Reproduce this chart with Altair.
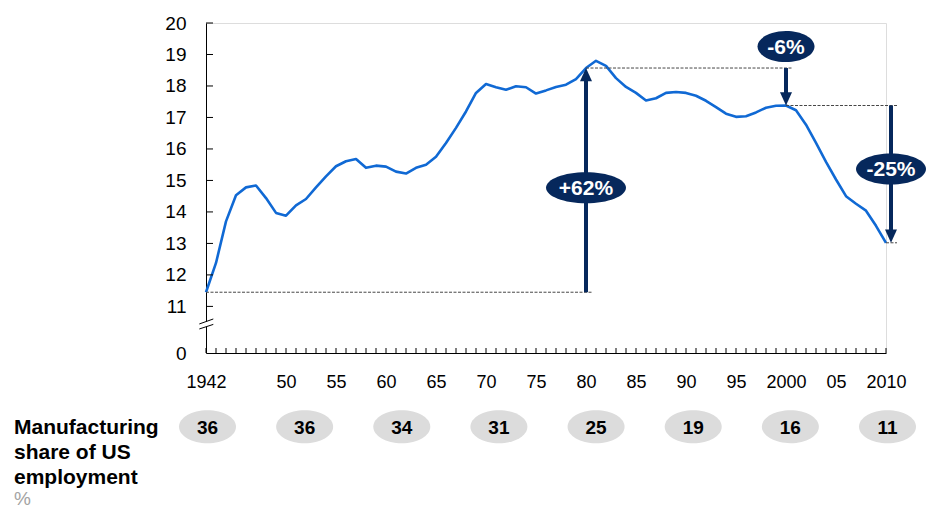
import altair as alt
import pandas as pd

# Manufacturing value added as % of US GDP, 1942-2010
years = list(range(1942, 2011))
share_gdp = [
    11.45, 12.38, 13.70, 14.53, 14.78, 14.84, 14.44, 13.97, 13.88, 14.21,  # 1942-1951
    14.41, 14.78, 15.13, 15.45, 15.61, 15.68, 15.40, 15.47, 15.44, 15.28,  # 1952-1961
    15.22, 15.40, 15.50, 15.75, 16.19, 16.67, 17.19, 17.78, 18.06, 17.96,  # 1962-1971
    17.88, 17.99, 17.96, 17.76, 17.86, 17.97, 18.04, 18.22, 18.57, 18.80,  # 1972-1981
    18.64, 18.25, 17.97, 17.78, 17.54, 17.61, 17.78, 17.81, 17.78, 17.69,  # 1982-1991
    17.53, 17.33, 17.12, 17.02, 17.04, 17.16, 17.31, 17.37, 17.38, 17.23,  # 1992-2001
    16.77, 16.19, 15.59, 15.03, 14.50, 14.26, 14.04, 13.56, 13.02,         # 2002-2010
]

# Period changes marked with arrows
change_labels = ["+62%", "-6%", "-25%"]
change_from_year = [1942, 1980, 2000]
change_to_year = [1980, 2000, 2010]
change_arrow_x = [1980, 2000, 2010.5]
change_label_y = [14.77, 19.25, 15.36]

# Manufacturing share of US employment, %
employment_share = [36, 36, 34, 31, 25, 19, 16, 11]

x_label_years = [1942, 1950, 1955, 1960, 1965, 1970, 1975, 1980, 1985,
                 1990, 1995, 2000, 2005, 2010]
y_label_values = [0, 11, 12, 13, 14, 15, 16, 17, 18, 19, 20]

# ---- styling -------------------------------------------------------------
W, H = 680, 330
FONT = "Liberation Sans"
BLUE = "#1069d4"
NAVY = "#06285c"
GUIDE = "#474747"
CIRCLE = "#dcdcdc"

x_scale = alt.Scale(domain=[1942, 2010], nice=False, zero=False)
# broken axis: 0..11 squeezed into a short segment, 11..20 full size
y_scale = alt.Scale(domain=[0, 11, 20], range=[H, H - 46.6, 0], nice=False, zero=False)

x_axis = alt.Axis(
    values=x_label_years, title=None, grid=False, ticks=False, tickSize=0,
    domainColor="black", domainWidth=1, labelFont=FONT, labelFontSize=18,
    labelColor="black", labelPadding=20, labelFlush=False, labelOverlap=False,
    labelExpr="(datum.value == 1942 || datum.value == 2000 || datum.value == 2010)"
              " ? '' + datum.value : slice('' + datum.value, 2)")
y_axis = alt.Axis(
    values=y_label_values, title=None, grid=False, ticks=False, tickSize=0,
    domainColor="black", domainWidth=1, labelFont=FONT, labelFontSize=19,
    labelColor="black", labelPadding=20, labelOverlap=False, format="d")


def X(field):
    return alt.X(field, scale=x_scale, axis=x_axis)


def Y(field):
    return alt.Y(field, scale=y_scale, axis=y_axis)


def ellipse_path(w, h):
    k = 0.5523
    r = h / w
    return (f"M-1,0C-1,{-k*r:.4f} {-k:.4f},{-r:.4f} 0,{-r:.4f}"
            f"C{k:.4f},{-r:.4f} 1,{-k*r:.4f} 1,0"
            f"C1,{k*r:.4f} {k:.4f},{r:.4f} 0,{r:.4f}"
            f"C{-k:.4f},{r:.4f} -1,{k*r:.4f} -1,0Z")


ARROW_UP = "M0,0L1,2.2L-1,2.2Z"
ARROW_DOWN = "M0,0L1,-2.2L-1,-2.2Z"

lookup = dict(zip(years, share_gdp))
series = pd.DataFrame({"year": years, "share": share_gdp})

# ---- main line -----------------------------------------------------------
line = alt.Chart(series).mark_line(color=BLUE, strokeWidth=2.6, strokeJoin="round").encode(
    x=X("year:Q"), y=Y("share:Q"))

# inward tick marks on both axes
y_ticks = alt.Chart(pd.DataFrame({"v": y_label_values[1:]})).mark_rule(
    color="black", strokeWidth=1).encode(
    y=Y("v:Q"), x=alt.value(0), x2=alt.value(7))
x_ticks = alt.Chart(pd.DataFrame({"yr": years})).mark_rule(
    color="black", strokeWidth=1).encode(
    x=X("yr:Q"), y=alt.value(H), y2=alt.value(H - 5))

# axis break between 0 and 11
gap = alt.Chart(pd.DataFrame({"x": [1942], "a": [6.2], "b": [7.4]})).mark_rule(
    color="white", strokeWidth=4).encode(
    x=X("x:Q"), y=Y("a:Q"), y2="b:Q")
slashes = alt.Chart(pd.DataFrame({
    "x0": [1941.33, 1941.33], "x1": [1942.73, 1942.73],
    "y0": [6.85, 5.67], "y1": [8.03, 6.75]})).mark_rule(
    color="black", strokeWidth=1).encode(
    x=X("x0:Q"), x2="x1:Q", y=Y("y0:Q"), y2="y1:Q")

# ---- change annotations --------------------------------------------------
guides = pd.DataFrame({
    "y": [lookup[1942], lookup[1980], lookup[2000], lookup[2010]],
    "x0": [1942, 1980, 2000, 2010],
    "x1": [1980.7, 2000.7, 2011.1, 2011.1],
})
guide_rules = alt.Chart(guides).mark_rule(
    color=GUIDE, strokeWidth=1, strokeDash=[3, 1.5]).encode(
    x=X("x0:Q"), x2="x1:Q", y=Y("y:Q"))

ell_w = {"+62%": 80, "-6%": 57, "-25%": 70}
ELL_H = 31
rows = []
for lab, fy, ty, ax, ly in zip(change_labels, change_from_year, change_to_year,
                               change_arrow_x, change_label_y):
    y0, y1 = lookup[fy], lookup[ty]
    up = y1 > y0
    rows.append({
        "label": lab, "x": ax, "y0": y0, "y1": y1,
        "shaft_end": y1 - 0.25 if up else y1 + 0.25,
        "head": ARROW_UP if up else ARROW_DOWN,
        "label_y": ly,
        "ell": ellipse_path(ell_w[lab], ELL_H),
        "ell_size": ell_w[lab] ** 2,
    })
ann = pd.DataFrame(rows)

shafts = alt.Chart(ann).mark_rule(color=NAVY, strokeWidth=4).encode(
    x=X("x:Q"), y=Y("y0:Q"), y2="shaft_end:Q")
heads = alt.Chart(ann).mark_point(filled=True, opacity=1, color=NAVY, strokeWidth=0).encode(
    x=X("x:Q"), y=Y("y1:Q"),
    shape=alt.Shape("head:N", scale=None, legend=None),
    size=alt.value(144))
bubbles = alt.Chart(ann).mark_point(filled=True, opacity=1, color=NAVY, strokeWidth=0).encode(
    x=X("x:Q"), y=Y("label_y:Q"),
    shape=alt.Shape("ell:N", scale=None, legend=None),
    size=alt.Size("ell_size:Q", scale=None, legend=None))
bubble_text = alt.Chart(ann).mark_text(
    color="white", font=FONT, fontSize=21, fontWeight="bold", baseline="middle", dy=1).encode(
    x=X("x:Q"), y=Y("label_y:Q"), text="label:N")

# ---- employment share row ------------------------------------------------
n = len(employment_share)
emp = pd.DataFrame({
    "slot": [1942 + i * (2010 - 1942) / (n - 1) + 0.15 for i in range(n)],
    "val": employment_share,
})
ROW_Y = 403.7
emp_circles = alt.Chart(emp).mark_point(
    filled=True, opacity=1, color=CIRCLE, strokeWidth=0,
    shape=ellipse_path(57, 33), size=57 ** 2).encode(
    x=X("slot:Q"), y=alt.value(ROW_Y))
emp_text = alt.Chart(emp).mark_text(
    color="black", font=FONT, fontSize=19, fontWeight="bold", baseline="middle", dy=1).encode(
    x=X("slot:Q"), y=alt.value(ROW_Y), text="val:N")

row_title = alt.Chart(pd.DataFrame({"t": ["Manufacturing\nshare of US\nemployment"]})).mark_text(
    align="left", baseline="alphabetic", font=FONT, fontSize=21, fontWeight="bold",
    color="black", lineBreak="\n", lineHeight=25).encode(
    x=alt.value(-192), y=alt.value(411), text="t:N")
row_unit = alt.Chart(pd.DataFrame({"t": ["%"]})).mark_text(
    align="left", baseline="alphabetic", font=FONT, fontSize=19, color="#a3a3a3").encode(
    x=alt.value(-192), y=alt.value(482), text="t:N")

chart = alt.layer(
    line, guide_rules, y_ticks, x_ticks, gap, slashes,
    shafts, heads, bubbles, bubble_text,
    emp_circles, emp_text, row_title, row_unit,
).properties(
    width=W, height=H,
    padding={"left": 206, "top": 23, "right": 40, "bottom": 156},
    autosize="none",
).configure_view(stroke=None).configure(background="white")

chart.save("out.html", embed_options={"renderer": "svg", "actions": False})
